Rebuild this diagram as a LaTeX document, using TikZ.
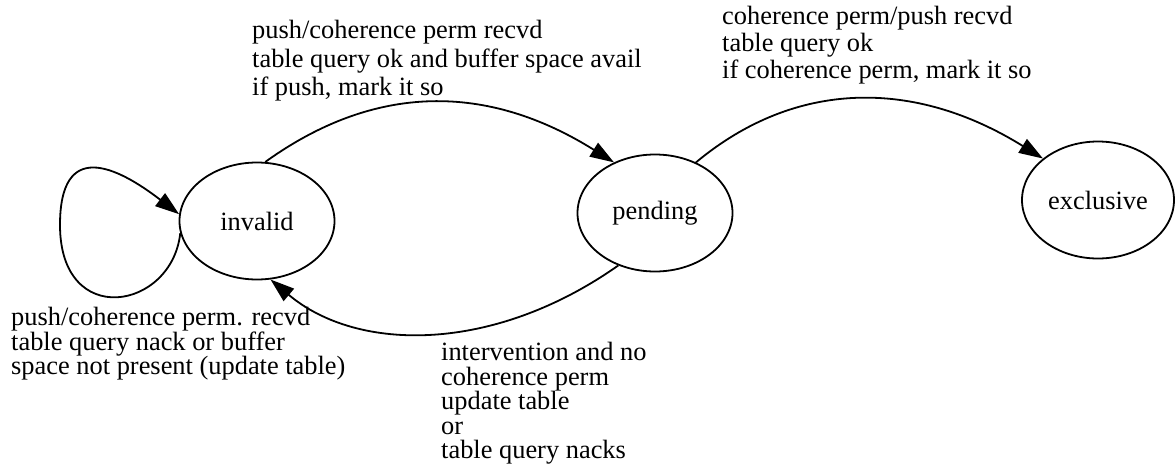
\documentclass[tikz,border=0pt]{standalone}
\usepackage{fontspec}
\setmainfont{Liberation Serif}
\usetikzlibrary{shapes.geometric,arrows.meta}
\begin{document}
\begin{tikzpicture}[x=1pt,y=-1pt,
  state/.style={draw, ellipse, line width=1.8pt, minimum width=155pt, minimum height=117pt, inner sep=0pt, font=\fontsize{26.4}{28}\selectfont},
  arr/.style={line width=1.8pt, -{Triangle[length=24pt,width=16pt]}},
  lbl/.style={anchor=north west, inner sep=0pt, align=left, font=\fontsize{26.4}{#1}\selectfont},
]
\useasboundingbox (0,0) rectangle (1175,472);
\node[state] (invalid) at (257,221) {invalid};
\node[state] (pending) at (655,213) {pending};
\node[state, minimum width=152pt] (exclusive) at (1098,200) {exclusive};
\coordinate (loopleft) at (60,225);
\draw[arr] (invalid.82) .. controls (375,83) and (487,83) .. (pending.129);
\draw[arr] (pending.51) .. controls (796,79) and (915,79) .. (exclusive.143);
\draw[arr] (pending.235) .. controls (494,353) and (358,353) .. (invalid.283);
\draw[arr] (invalid.189) .. controls (172,310) and (60,330) .. (loopleft) .. controls (60,140) and (115,165) .. (invalid.175);
\node[lbl=28.5] (l1) at (252,20) {push/coherence perm recvd\\table query ok and buffer space avail\\if push, mark it so};
\node[lbl=27] (l2) at (722,6) {coherence perm/push recvd\\table query ok\\if coherence perm, mark it so};
\node[lbl=24.5] (l3) at (11,307) {push/coherence perm. recvd\\table query nack or buffer\\space not present (update table)};
\node[lbl=24.5] (l4) at (441,342) {intervention and no\\coherence perm\\update table\\or\\table query nacks};
\end{tikzpicture}
\end{document}
